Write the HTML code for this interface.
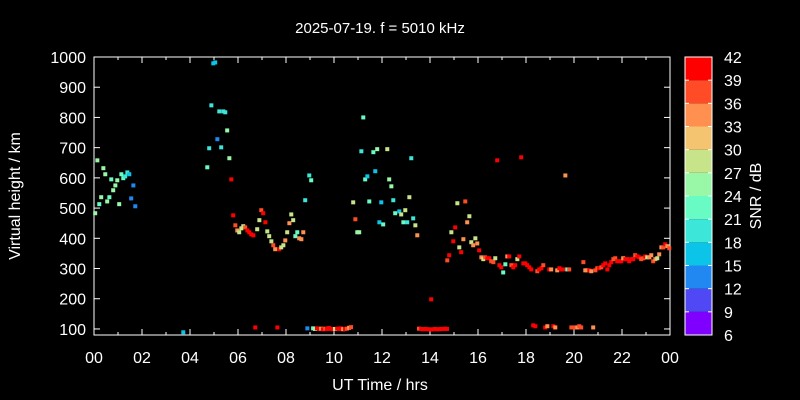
<!DOCTYPE html>
<html><head><meta charset="utf-8"><style>
html,body{margin:0;padding:0;background:#000;}
svg{display:block;font-family:"Liberation Sans",sans-serif;}
</style></head><body>
<svg id="chart" width="800" height="400" viewBox="0 0 800 400">
<rect x="0" y="0" width="800" height="400" fill="#000"/>
<text x="380" y="33" fill="#fff" font-size="15" text-anchor="middle">2025-07-19. f = 5010 kHz</text>
<text x="380" y="390" fill="#fff" font-size="16" text-anchor="middle">UT Time / hrs</text>
<text transform="translate(20,196) rotate(-90)" fill="#fff" font-size="16" text-anchor="middle">Virtual height / km</text>
<text transform="translate(761,196) rotate(-90)" fill="#fff" font-size="16" text-anchor="middle">SNR / dB</text>
<g id="axes"></g>
<g id="points"></g>
<g id="cbar"></g>
</svg>
<script>
const times=[0.05,0.14,0.22,0.30,0.39,0.47,0.55,0.64,0.72,0.80,0.89,0.97,1.05,1.14,1.22,1.30,1.39,1.47,1.55,1.64,1.72,3.72,4.72,4.80,4.89,4.97,5.05,5.14,5.22,5.30,5.39,5.47,5.55,5.64,5.72,5.80,5.89,5.97,6.05,6.14,6.22,6.30,6.39,6.47,6.55,6.64,6.72,6.80,6.89,6.97,7.05,7.14,7.22,7.30,7.39,7.47,7.55,7.64,7.72,7.80,7.89,7.97,8.05,8.14,8.22,8.30,8.39,8.47,8.55,8.64,8.72,8.80,8.89,8.97,9.05,
9.13,9.21,9.29,9.38,9.46,9.54,9.63,9.71,9.79,9.88,9.96,10.04,10.13,10.21,10.29,10.38,10.46,10.54,10.63,10.71,
10.80,10.89,10.97,11.05,11.14,11.22,11.30,11.39,11.47,11.64,11.72,11.80,11.89,11.97,12.05,12.22,12.30,12.39,12.47,12.55,12.72,12.80,12.89,12.97,13.05,13.14,13.22,13.30,13.39,13.47,14.05,
13.54,13.63,13.71,13.79,13.88,13.96,14.04,14.13,14.21,14.29,14.38,14.46,14.54,14.63,14.71,
14.72,14.80,14.89,14.97,15.05,15.14,15.22,15.30,15.39,15.47,15.55,15.64,15.72,15.80,15.89,15.97,16.05,16.14,16.22,16.30,16.39,
16.47,16.55,16.64,16.72,16.80,16.89,16.97,17.05,17.14,17.22,17.30,17.39,17.47,17.55,17.64,17.72,17.80,17.89,17.97,18.05,18.14,18.22,18.30,18.39,18.47,18.55,18.64,18.72,18.80,18.89,18.97,19.05,19.14,19.22,19.30,19.39,19.47,19.55,19.64,19.72,19.80,19.89,19.97,20.05,20.14,20.22,20.30,20.39,20.47,20.55,20.64,20.72,20.80,20.89,20.97,21.05,21.14,21.22,21.30,21.39,21.47,21.55,21.64,21.72,21.80,21.89,21.97,22.05,22.14,22.22,22.30,22.39,22.47,22.55,22.64,22.72,22.80,22.89,22.97,23.05,23.14,23.22,23.30,23.39,23.47,23.55,23.64,23.72,23.80,23.89,23.97];
const heights=[483,658,513,536,632,612,522,536,595,559,575,592,513,612,599,605,618,612,532,575,506,89,635,698,840,979,982,728,820,701,820,817,757,665,595,476,443,426,420,433,440,436,426,420,413,410,105,430,460,493,483,453,423,407,390,377,364,105,364,370,377,393,420,450,479,460,407,420,400,397,420,526,102,608,592,
102,100,102,100,101,99,101,100,103,100,99,100,101,100,102,99,100,101,104,106,
519,463,420,420,688,800,595,605,522,685,622,695,453,519,446,695,595,572,526,483,489,479,453,493,453,536,665,466,443,410,198,
101,100,99,100,99,99,98,99,100,99,99,100,100,101,100,
327,344,420,390,436,516,370,354,397,522,453,473,387,377,400,383,360,337,331,337,334,
334,324,321,334,658,311,304,287,314,340,340,311,304,311,331,340,668,317,317,311,304,297,112,109,291,297,301,311,105,109,297,297,109,105,294,301,297,297,608,297,297,105,105,105,105,109,105,321,294,294,294,291,105,294,301,301,304,311,317,297,311,321,331,334,324,324,324,334,331,331,324,331,331,344,340,337,331,334,340,337,337,344,324,331,334,347,370,370,380,374,367];
const snrs=[24,24,22,24,24,24,24,21,21,24,24,24,24,21,21,18,18,15,12,12,12,15,21,18,18,15,15,12,18,18,18,18,24,24,42,42,36,33,27,27,27,36,39,39,39,39,42,27,27,36,42,42,27,27,27,36,33,42,39,27,27,33,27,33,27,27,21,21,33,33,33,18,12,18,21,
21,24,42,39,33,39,36,42,42,42,39,27,42,42,39,33,42,36,33,36,
27,36,24,24,18,21,21,15,21,21,15,24,15,15,21,27,24,24,18,21,15,27,21,27,18,27,18,18,27,33,42,
36,42,42,42,42,42,42,42,42,42,42,42,42,42,42,
36,39,27,39,39,27,27,42,33,36,33,27,27,33,27,33,39,33,27,36,42,
39,36,36,27,39,42,42,21,21,33,42,36,42,39,27,42,42,42,39,39,42,42,42,42,36,39,39,36,42,33,42,33,42,33,33,39,42,42,33,21,36,36,36,36,33,36,36,36,33,33,42,33,33,36,36,39,36,42,42,42,39,39,36,36,39,42,39,33,42,42,39,42,42,36,39,39,36,36,42,27,33,33,36,33,27,33,33,36,39,33,36];
const xTicks=["00","02","04","06","08","10","12","14","16","18","20","22","00"];
const yTicks=[100,200,300,400,500,600,700,800,900,1000];
const cbTicks=[6,9,12,15,18,21,24,27,30,33,36,39,42];
const cbColors=["#8000ff","#5048f4","#2088f0","#0cc4e8","#3ce6d8","#68fcc4","#98f8a8","#c8e48a","#f4c470","#ff9050","#ff4c26","#ff0000"];

const NS="http://www.w3.org/2000/svg";
const X0=94,X1=670,Y0=335,Y1=57,HMIN=80,HMAX=1000;
function xs(t){return X0+(t/24)*(X1-X0);}
function ys(h){return Y0-(h-HMIN)/(HMAX-HMIN)*(Y0-Y1);}
function cs(v){return Y0-(v-6)/36*(Y0-Y1);}
function col(s){let i=Math.floor((s-6)/3);if(i>11)i=11;if(i<0)i=0;return cbColors[i];}
function mk(tag,attrs,parent){const e=document.createElementNS(NS,tag);for(const k in attrs)e.setAttribute(k,attrs[k]);parent.appendChild(e);return e;}

const axes=document.getElementById('axes');
const frame=mk('rect',{x:X0,y:Y1,width:X1-X0,height:Y0-Y1,fill:'none',stroke:'#fff','stroke-width':1},axes);


for(let h=0;h<=24;h++){
  const x=xs(h), L=(h%2===0)?6:3;
  mk('line',{x1:x,y1:Y0,x2:x,y2:Y0-L,stroke:'#fff'},axes);
  mk('line',{x1:x,y1:Y1,x2:x,y2:Y1+L,stroke:'#fff'},axes);
}
xTicks.forEach((lab,i)=>{
  const t=mk('text',{x:xs(i*2),y:Y0+28,fill:'#fff','font-size':16,'text-anchor':'middle'},axes);
  t.textContent=lab;
  
  
});
yTicks.forEach(v=>{
  const y=ys(v);
  mk('line',{x1:X0,y1:y,x2:X0+6,y2:y,stroke:'#fff'},axes);
  mk('line',{x1:X1,y1:y,x2:X1-6,y2:y,stroke:'#fff'},axes);
  const t=mk('text',{x:X0-8,y:y+6,fill:'#fff','font-size':16,'text-anchor':'end'},axes);
  t.textContent=v;
  
  
});

const pts=document.getElementById('points');
for(let i=0;i<times.length;i++){
  const r=mk('rect',{x:xs(times[i])-2,y:ys(heights[i])-2,width:4,height:4,fill:col(snrs[i])},pts);
  
  
}

const cb=document.getElementById('cbar');
const CX=685,CW=27;
cbColors.forEach((c,i)=>{
  const lo=6+i*3,hi=lo+3;
  const r=mk('rect',{x:CX,y:cs(hi),width:CW,height:cs(lo)-cs(hi),fill:c},cb);
  
  
});
mk('rect',{x:CX,y:Y1,width:CW,height:Y0-Y1,fill:'none',stroke:'#fff'},cb);
cbTicks.forEach(v=>{
  const y=cs(v);
  mk('line',{x1:CX,y1:y,x2:CX+4,y2:y,stroke:'#fff'},cb);
  mk('line',{x1:CX+CW,y1:y,x2:CX+CW-4,y2:y,stroke:'#fff'},cb);
  const t=mk('text',{x:CX+CW+12,y:y+6,fill:'#fff','font-size':16},cb);
  t.textContent=v;
  
  
});
</script>
</body></html>
